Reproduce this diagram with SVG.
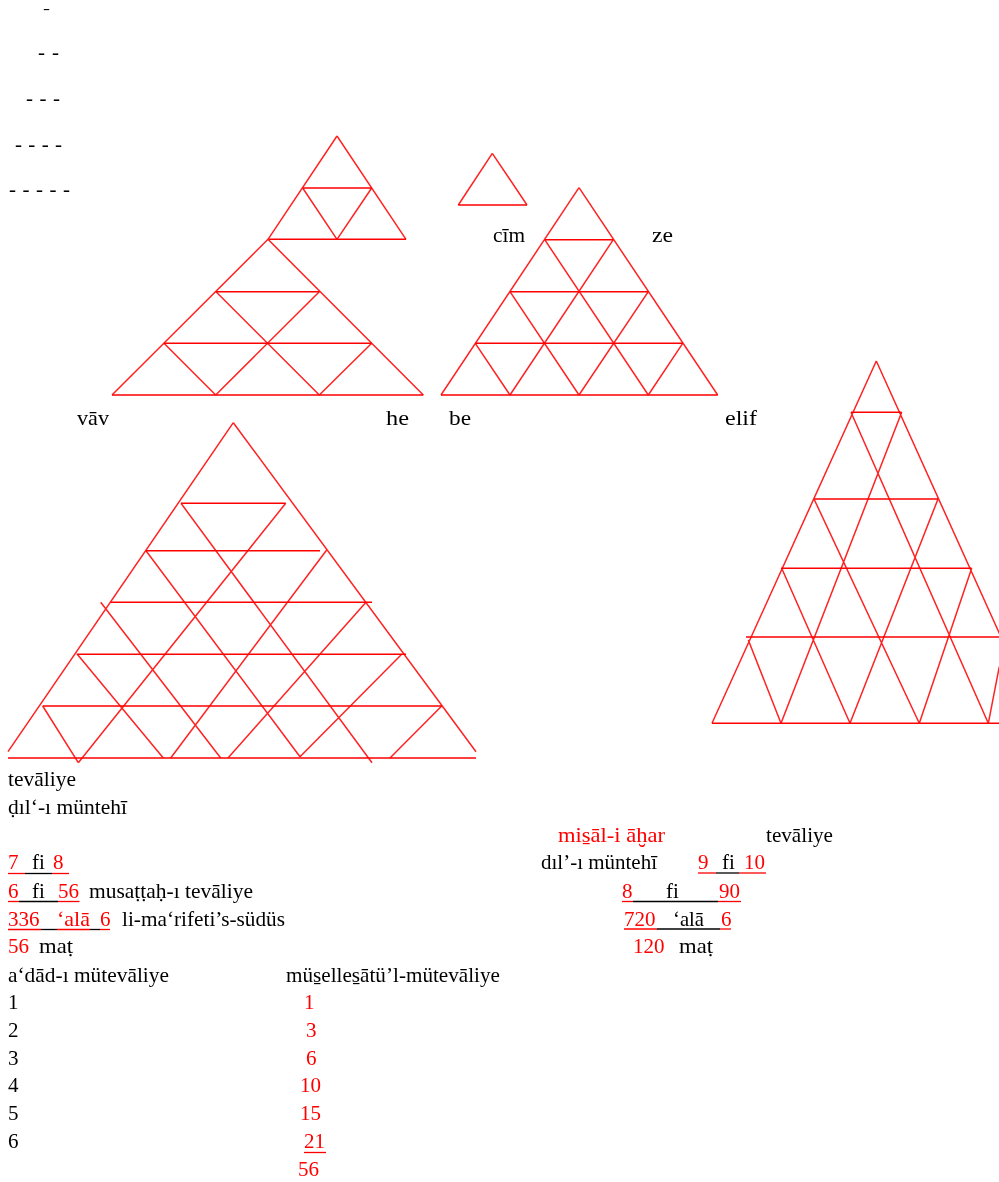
<svg xmlns="http://www.w3.org/2000/svg" width="999" height="1182" viewBox="0 0 999 1182">
<style>
text{font-family:"Liberation Serif","Times New Roman",serif;font-size:21px;fill:#000;white-space:pre}
.r{fill:#f00}
#figures path{fill:none;stroke:#f22;stroke-width:1.5}
#figures path.h{stroke:#f00}
line.ur{stroke:#f00;stroke-width:1.3}
line.uk{stroke:#000;stroke-width:1.3}
</style>
<defs>
<filter id="soft" x="0" y="0" width="999" height="1182" filterUnits="userSpaceOnUse"><feGaussianBlur stdDeviation="0.35"/></filter>
</defs>
<rect width="999" height="1182" fill="#fff"/>
<g filter="url(#soft)">
<g id="figures">
<g id="tri-top-small">
<path d="M337 136L268 239.3M337 136L406 239.3M302.7 188L337 239.3M371.7 188L337 239.3"/>
<path class="h" d="M268 239.3H406M302.7 188H371.7"/>
</g>
<g id="tri-vav-he">
<path d="M268 239.3L112 395M268 239.3L423.3 395M216 291.7L319.3 395M164 343.3L215.7 395M319.3 291.7L215.7 395M371.7 343.3L319.3 395"/>
<path class="h" d="M112 395H423.3M216 291.7H319.3M164 343.3H371.7"/>
</g>
<g id="tri-single">
<path d="M492.3 153.3L458.3 205M492.3 153.3L527 205"/>
<path class="h" d="M458.3 205H527"/>
</g>
<g id="tri-be-elif">
<path d="M579 187.7L441 395M579 187.7L717.7 395M544.7 239.7L648.3 395M510 291.7L579 395M475.3 343.3L510 395M613.3 239.7L510 395M648.3 291.7L579 395M682.7 343.3L648.3 395"/>
<path class="h" d="M441 395H717.7M544.7 239.7H613.3M510 291.7H648.3M475.3 343.3H682.7"/>
</g>
<g id="tri-large">
<path d="M233.3 422.7L8 751.7M233.3 422.7L476 751.7M181 503.3L372 762.7M146 550.7L300 756.7M100.7 602.3L220.7 758M77.3 654.3L163.3 758M42.7 706L78.3 762.7M285.7 503.3L78.3 762.7M326.7 550L170.7 758M366 602.3L228 758M401.7 654.3L300 756.7M441.7 706L390 758"/>
<path class="h" d="M8 758H476M181 503.3H285.7M146 550.7H320M110.7 602.3H372M76.7 654.3H406M42.7 706H441.7"/>
</g>
<g id="tri-right">
<path d="M876.3 361L712 723.3M876.3 361L1040 723.3M851 412.3L988.3 723.3M814 499L919.3 723.3M781.7 568.3L850 723.3M748.3 640L781 723.3M901.7 412.3L781 723.3M938 499L850 723.3M971.7 568.3L919.3 723.3M999.3 666.7L988.3 723.3"/>
<path class="h" d="M712 723.3H999M851 412.3H901.7M814 499H938M781 568.3H971.7M746 637H999"/>
</g>
</g>
<g id="dashes">
<text x="43" y="13" style="font-size:14px" textLength="7" lengthAdjust="spacingAndGlyphs">-</text>
<text x="38" y="59" textLength="21">- -</text>
<text x="26" y="105" textLength="34">- - -</text>
<text x="15" y="151" textLength="47">- - - -</text>
<text x="9" y="196" textLength="61">- - - - -</text>
</g>
<g id="letters">
<text x="77" y="425" textLength="32" lengthAdjust="spacingAndGlyphs">vāv</text>
<text x="386" y="425" textLength="23" lengthAdjust="spacingAndGlyphs">he</text>
<text x="449" y="425" textLength="22" lengthAdjust="spacingAndGlyphs">be</text>
<text x="725" y="425" textLength="32" lengthAdjust="spacingAndGlyphs">elif</text>
<text x="493" y="242" textLength="32" lengthAdjust="spacingAndGlyphs">cīm</text>
<text x="652" y="242" textLength="21" lengthAdjust="spacingAndGlyphs">ze</text>
</g>
<g id="left-calculation">
<text x="8" y="786" textLength="68" lengthAdjust="spacingAndGlyphs">tevāliye</text>
<text x="8" y="814" textLength="119" lengthAdjust="spacingAndGlyphs">ḍıl‘-ı müntehī</text>
<text class="r" x="8" y="869">7</text><text x="32" y="869">fi</text><text class="r" x="53" y="869">8</text>
<line class="ur" x1="8" y1="873.5" x2="25" y2="873.5"/><line class="uk" x1="25" y1="873.5" x2="52" y2="873.5"/><line class="ur" x1="52" y1="873.5" x2="69" y2="873.5"/>
<text class="r" x="8" y="898">6</text><text x="32" y="898">fi</text><text class="r" x="58" y="898">56</text>
<line class="ur" x1="8" y1="901.5" x2="19" y2="901.5"/><line class="uk" x1="19" y1="901.5" x2="58" y2="901.5"/><line class="ur" x1="58" y1="901.5" x2="79.5" y2="901.5"/>
<text x="89" y="898" textLength="164" lengthAdjust="spacingAndGlyphs">musaṭṭaḥ-ı tevāliye</text>
<text class="r" x="8" y="926">336</text><text class="r" x="57" y="926" textLength="33" lengthAdjust="spacingAndGlyphs">‘alā</text><text class="r" x="100" y="926">6</text>
<line class="ur" x1="8" y1="929.5" x2="41" y2="929.5"/><line class="uk" x1="41" y1="929.5" x2="57" y2="929.5"/><line class="ur" x1="57" y1="929.5" x2="90" y2="929.5"/><line class="uk" x1="90" y1="929.5" x2="100" y2="929.5"/><line class="ur" x1="100" y1="929.5" x2="110" y2="929.5"/>
<text x="122" y="926" textLength="163" lengthAdjust="spacingAndGlyphs">li-ma‘rifeti’s-südüs</text>
<text class="r" x="8" y="953">56</text><text x="39" y="953" textLength="34" lengthAdjust="spacingAndGlyphs">maṭ</text>
</g>
<g id="right-calculation">
<text class="r" x="558" y="842" textLength="107" lengthAdjust="spacingAndGlyphs">mis̱āl-i āḫar</text>
<text x="766" y="842" textLength="67" lengthAdjust="spacingAndGlyphs">tevāliye</text>
<text x="541" y="869" textLength="116" lengthAdjust="spacingAndGlyphs">dıl’-ı müntehī</text>
<text class="r" x="698" y="869">9</text><text x="722" y="869">fi</text><text class="r" x="744" y="869">10</text>
<line class="ur" x1="698" y1="873" x2="716" y2="873"/><line class="uk" x1="716" y1="873" x2="739" y2="873"/><line class="ur" x1="739" y1="873" x2="766" y2="873"/>
<text class="r" x="622" y="898">8</text><text x="666" y="898">fi</text><text class="r" x="719" y="898">90</text>
<line class="ur" x1="622" y1="901.5" x2="633" y2="901.5"/><line class="uk" x1="633" y1="901.5" x2="718" y2="901.5"/><line class="ur" x1="718" y1="901.5" x2="741" y2="901.5"/>
<text class="r" x="624" y="926">720</text><text x="673" y="926" textLength="31" lengthAdjust="spacingAndGlyphs">‘alā</text><text class="r" x="721" y="926">6</text>
<line class="ur" x1="624" y1="929" x2="657" y2="929"/><line class="uk" x1="657" y1="929" x2="720" y2="929"/><line class="ur" x1="720" y1="929" x2="731" y2="929"/>
<text class="r" x="633" y="953">120</text><text x="679" y="953" textLength="34" lengthAdjust="spacingAndGlyphs">maṭ</text>
</g>
<g id="table">
<text x="8" y="982" textLength="161" lengthAdjust="spacingAndGlyphs">a‘dād-ı mütevāliye</text>
<text x="286" y="982" textLength="214" lengthAdjust="spacingAndGlyphs">müs̱elles̱ātü’l-mütevāliye</text>
<text x="8" y="1009">1</text><text class="r" x="304" y="1009">1</text>
<text x="8" y="1037">2</text><text class="r" x="306" y="1037">3</text>
<text x="8" y="1065">3</text><text class="r" x="306" y="1065">6</text>
<text x="8" y="1092">4</text><text class="r" x="300" y="1092">10</text>
<text x="8" y="1120">5</text><text class="r" x="300" y="1120">15</text>
<text x="8" y="1148">6</text><text class="r" x="304" y="1148">21</text>
<line class="ur" x1="304" y1="1152.5" x2="326" y2="1152.5"/>
<text class="r" x="298" y="1176">56</text>
</g>
</g>
</svg>
